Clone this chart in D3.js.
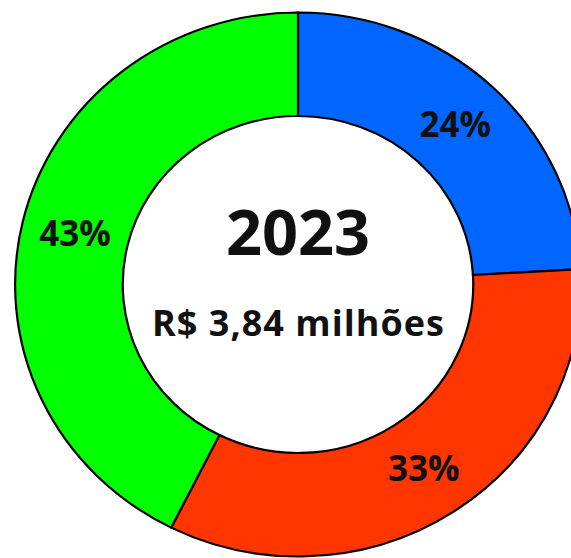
<html>

<head>
  <script src="https://d3js.org/d3.v7.min.js"></script>
  <style>
    body {
      margin: 0;
      background: #fff;
    }

    text {
      font-family: "Open Sans", sans-serif;
      font-weight: bold;
    }
  </style>
</head>

<body>
  <svg width="571" height="558" id="donut"></svg>
  <script>
    // shares (labels are rounded)
    const categories = ["A", "B", "C"];
    const shares = [24.1, 33.3, 42.6];
    const colors = ["#0066ff", "#ff3600", "#00ff00"];
    const year = "2023";
    const total = "R$ 3,84 milhões";

    const data = categories.map((c, i) => ({ name: c, value: shares[i], color: colors[i] }));

    const svg = d3.select("svg#donut");
    const outerR = 272, innerR = 168.5;

    // the original is a bit wider than tall
    const g = svg.append("g")
      .attr("transform", "translate(298,284.5) scale(1.04,1)");

    const pie = d3.pie().sort(null).value(d => d.value);
    const arc = d3.arc().innerRadius(innerR).outerRadius(outerR);
    const arcs = pie(data);

    g.selectAll("path.slice")
      .data(arcs)
      .join("path")
      .attr("class", "slice")
      .attr("d", arc)
      .attr("fill", d => d.data.color)
      .attr("stroke", "#000")
      .attr("stroke-width", 2.2)
      .attr("vector-effect", "non-scaling-stroke");

    const fmt = d3.format(".0%");

    svg.selectAll("text.label")
      .data(arcs)
      .join("text")
      .attr("class", "label")
      .attr("x", d => 298 + arc.centroid(d)[0] * 1.04)
      .attr("y", d => 284.5 + arc.centroid(d)[1])
      .attr("dy", "0.36em")
      .attr("text-anchor", "middle")
      .attr("font-size", 35)
      .attr("fill", "#111")
      .text(d => fmt(d.data.value / 100));

    svg.append("text")
      .attr("x", 298)
      .attr("y", 255)
      .attr("text-anchor", "middle")
      .attr("font-size", 63)
      .attr("fill", "#111")
      .text(year);

    svg.append("text")
      .attr("x", 298)
      .attr("y", 336)
      .attr("text-anchor", "middle")
      .attr("font-size", 36)
      .attr("textLength", 292)
      .attr("lengthAdjust", "spacing")
      .attr("fill", "#111")
      .text(total);
  </script>
</body>

</html>
